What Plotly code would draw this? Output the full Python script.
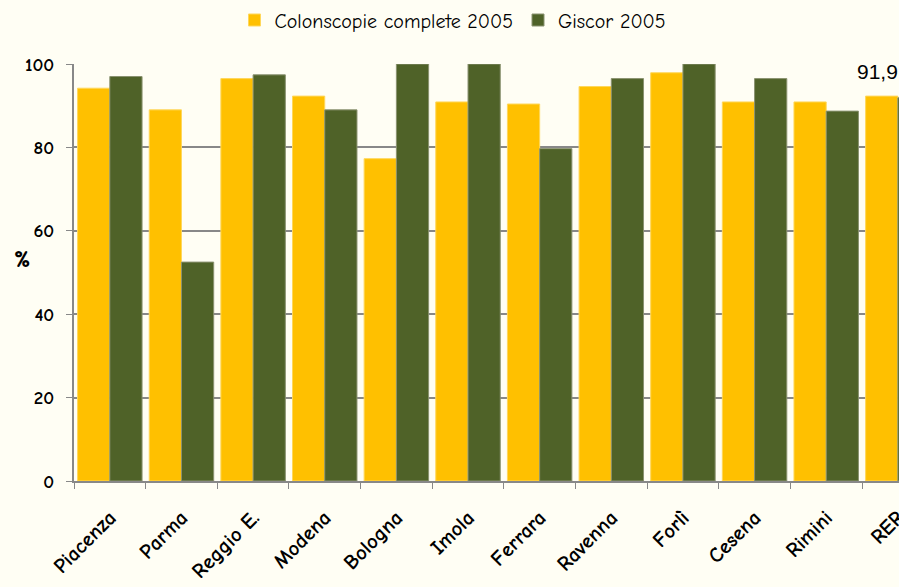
import plotly.graph_objects as go

categories = ["Piacenza", "Parma", "Reggio E.", "Modena", "Bologna", "Imola",
              "Ferrara", "Ravenna", "Forlì", "Cesena", "Rimini", "RER"]
colonscopie_2005 = [94.2, 89.0, 96.5, 92.3, 77.3, 90.9, 90.4, 94.6, 97.9, 90.9, 90.9, 92.3]
giscor_2005 = [97.0, 52.5, 97.4, 89.0, 100, 100, 79.7, 96.5, 100, 96.5, 88.7, 91.9]
y_ticks = [0, 20, 40, 60, 80, 100]
rer_label = "91,9"

FONT = "Comic Sans MS, Comic Neue, DejaVu Sans, sans-serif"
YELLOW = "#FFC000"
GREEN = "#4F6228"
BG = "#FFFEF4"

W, H = 899, 587
ML, MR, MT, MB = 74, 0, 64, 106
PW, PH = W - ML - MR, H - MT - MB


def px_x(x):
    return (x - ML) / PW


def px_y(y):
    return (H - MB - y) / PH


fig = go.Figure()
fig.add_trace(go.Bar(name="Colonscopie complete 2005", x=categories, y=colonscopie_2005,
                     marker=dict(color=YELLOW, line=dict(color="#FFD75A", width=1))))
fig.add_trace(go.Bar(name="Giscor 2005", x=categories, y=giscor_2005,
                     marker=dict(color=GREEN, line=dict(color="#8A9270", width=1))))

fig.update_layout(
    width=W, height=H,
    margin=dict(l=ML, r=MR, t=MT, b=MB, autoexpand=False),
    paper_bgcolor=BG, plot_bgcolor=BG,
    barmode="group", bargap=0.1, bargroupgap=0,
    font=dict(family=FONT, color="black"),
    showlegend=True,
    legend=dict(orientation="h", x=px_x(453), xanchor="center", y=px_y(20), yanchor="middle",
                font=dict(size=20, family=FONT), bgcolor="rgba(0,0,0,0)",
                traceorder="normal", itemwidth=30),
    xaxis=dict(type="category", range=[-0.5, 11.016], tickangle=-45,
               tickfont=dict(size=21, family=FONT), ticks="outside", tickson="boundaries",
               ticklen=6, tickcolor="#888888", showline=True, linecolor="#888888",
               linewidth=2, showgrid=False, ticklabelstandoff=14),
    yaxis=dict(range=[0, 100], tickvals=y_ticks, ticktext=[f"<b>{v}</b>" for v in y_ticks],
               tickfont=dict(size=19, family=FONT), ticklabelstandoff=8,
               ticks="outside", ticklen=6, tickcolor="#888888", showline=True,
               linecolor="#888888", linewidth=2, showgrid=True, gridcolor="#888888",
               gridwidth=1.5, zeroline=False),
    annotations=[
        dict(text="<b>%</b>", x=px_x(22), y=px_y(259), xref="paper", yref="paper",
             xanchor="center", yanchor="middle",
             showarrow=False, font=dict(size=24, family=FONT)),
        dict(text=rer_label, x=px_x(855), y=px_y(58), xref="paper", yref="paper",
             xanchor="left", yanchor="top", showarrow=False,
             font=dict(size=21, family="Liberation Sans, Arial, sans-serif")),
    ],
)
fig.update_xaxes(ticktext=[f"<b>{c}</b>" for c in categories], tickvals=categories)

fig.write_html("out.html", config={"displayModeBar": False})

# remove the browser's default body margin so the figure fills the window
with open("out.html", "r", encoding="utf-8") as f:
    html = f.read()
html = html.replace("<head>", "<head><style>html,body{margin:0;padding:0;overflow:hidden;}</style>", 1)
with open("out.html", "w", encoding="utf-8") as f:
    f.write(html)
